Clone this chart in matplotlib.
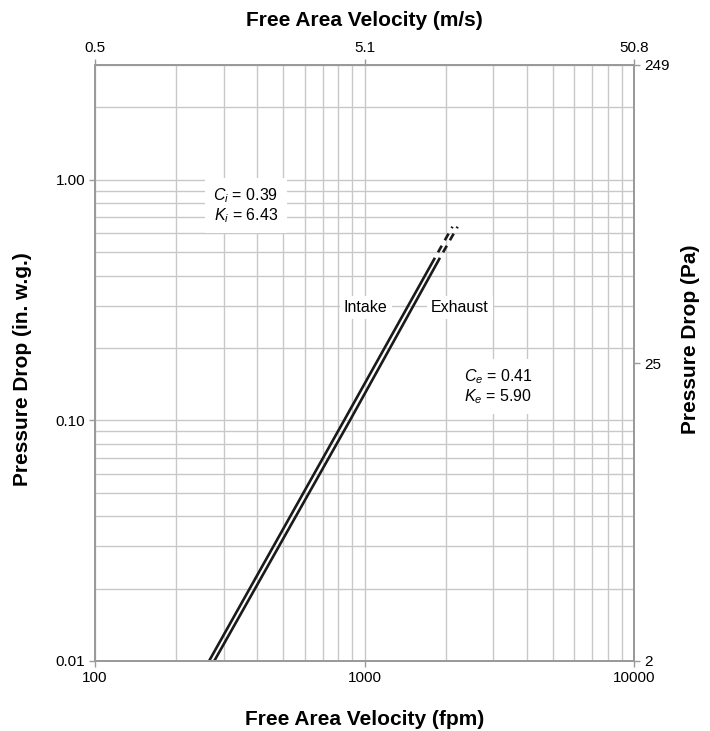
import matplotlib
matplotlib.use("Agg")
import matplotlib.pyplot as plt
from matplotlib.ticker import NullLocator

plt.rcParams['font.family'] = ['Liberation Sans', 'DejaVu Sans']
plt.rcParams['mathtext.fontset'] = 'custom'
plt.rcParams['mathtext.rm'] = 'Liberation Sans'
plt.rcParams['mathtext.it'] = 'Liberation Sans:italic'
plt.rcParams['lines.scale_dashes'] = False

# values
intake_fpm = [265, 840, 1825]
intake_wg = [0.01, 0.1, 0.474]
intake_ext_fpm = [1825, 2120]
intake_ext_wg = [0.474, 0.638]

exhaust_fpm = [277, 883, 1905]
exhaust_wg = [0.01, 0.1, 0.474]
exhaust_ext_fpm = [1905, 2215]
exhaust_ext_wg = [0.474, 0.638]

x_ticks = [100, 1000, 10000]
x_labels = ["100", "1000", "10000"]
top_labels = ["0.5", "5.1", "50.8"]
y_ticks = [0.01, 0.1, 1.0]
y_labels = ["0.01", "0.10", "1.00"]
right_ticks = [0.01, 0.1724, 3.0]
right_labels = ["2", "25", "249"]

xlim = (100, 10000)
ylim = (0.01, 3.0)

spine_col = "#9a9a9a"
grid_col = "#c8c8c8"

fig = plt.figure(figsize=(7.1, 7.31), dpi=100)
ax = fig.add_axes([0.1338, 0.0958, 0.7592, 0.8153])
ax.set_xscale("log")
ax.set_yscale("log")
ax.set_xlim(*xlim)
ax.set_ylim(*ylim)
ax.set_xticks(x_ticks, x_labels)
ax.set_yticks(y_ticks, y_labels)
ax.grid(which="both", color=grid_col, lw=1.0)
ax.set_axisbelow(True)
ax.tick_params(which="major", length=4, width=1, color=spine_col, labelsize=11, pad=3)
ax.tick_params(which="minor", length=0)
for s in ax.spines.values():
    s.set_color(spine_col)
    s.set_linewidth(1.3)

ax.plot(intake_fpm, intake_wg, color="#1a1a1a", lw=1.9, solid_capstyle="butt")
ax.plot(exhaust_fpm, exhaust_wg, color="#1a1a1a", lw=1.9, solid_capstyle="butt")
ax.plot(intake_ext_fpm, intake_ext_wg, color="#1a1a1a", lw=1.9,
        linestyle=(5.5, (5.5, 4.5)), dash_capstyle="butt")
ax.plot(exhaust_ext_fpm, exhaust_ext_wg, color="#1a1a1a", lw=1.9,
        linestyle=(5.5, (5.5, 4.5)), dash_capstyle="butt")

box = dict(facecolor="white", edgecolor="none", pad=3)
ax.text(1010, 0.295, "Intake", fontsize=11.5, ha="center", va="center", bbox=box)
ax.text(2260, 0.295, "Exhaust", fontsize=11.5, ha="center", va="center", bbox=box)
ax.text(363, 0.78, "$C_i$ = 0.39\n$K_i$ = 6.43", fontsize=11.5, ha="center",
        va="center", linespacing=1.1, bbox=dict(facecolor="white", edgecolor="none", pad=6))
ax.text(3126, 0.138, "$C_e$ = 0.41\n$K_e$ = 5.90", fontsize=11.5, ha="center",
        va="center", linespacing=1.1, bbox=dict(facecolor="white", edgecolor="none", pad=6))

ax.set_xlabel("Free Area Velocity (fpm)", fontsize=15, fontweight="bold", labelpad=18)
ax.set_ylabel("Pressure Drop (in. w.g.)", fontsize=15, fontweight="bold")
ax.yaxis.set_label_coords(-0.117, 0.49)

axt = ax.twiny()
axt.set_xscale("log")
axt.set_xlim(*xlim)
axt.set_xticks(x_ticks, top_labels)
axt.xaxis.set_minor_locator(NullLocator())
axt.tick_params(length=4, width=1, color=spine_col, labelsize=11, pad=3)
axt.set_xlabel("Free Area Velocity (m/s)", fontsize=15, fontweight="bold", labelpad=11)

axr = ax.twinx()
axr.set_yscale("log")
axr.set_ylim(*ylim)
axr.set_yticks(right_ticks, right_labels)
axr.yaxis.set_minor_locator(NullLocator())
axr.tick_params(length=4, width=1, color=spine_col, labelsize=11, pad=3)
axr.set_ylabel("Pressure Drop (Pa)", fontsize=15, fontweight="bold")
axr.yaxis.set_label_coords(1.088, 0.539)

for a in (axt, axr):
    for s in a.spines.values():
        s.set_color(spine_col)
        s.set_linewidth(1.3)

fig.savefig("out.png", dpi=100)
